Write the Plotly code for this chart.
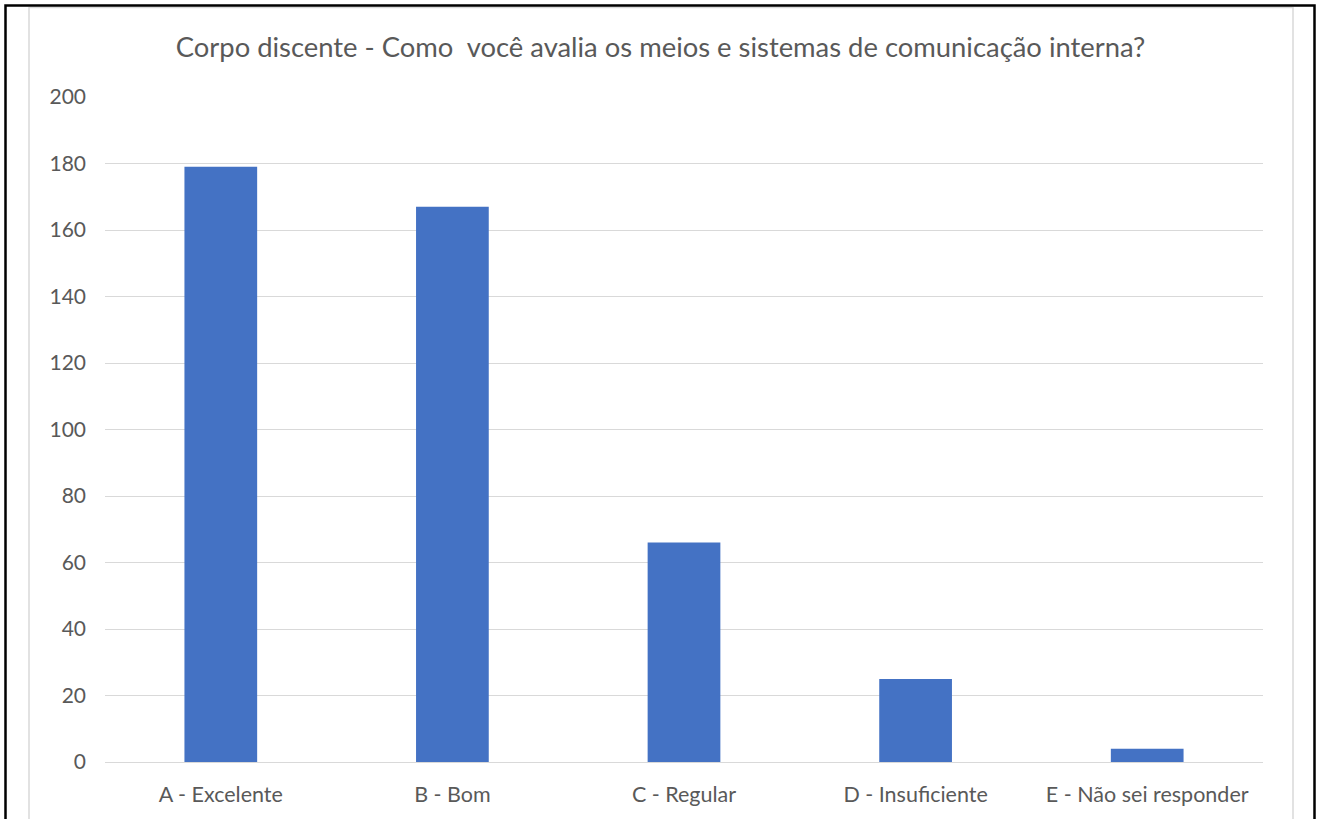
import plotly.graph_objects as go

categories = ["A - Excelente", "B - Bom", "C - Regular", "D - Insuficiente", "E - Não sei responder"]
values = [179, 167, 66, 25, 4]
title_text = "Corpo discente - Como  você avalia os meios e sistemas de comunicação interna?"

W, H = 1321, 819
L, R, T, B = 105, 58, 97, 57
pw, ph = W - L - R, H - T - B

def px(x):
    return (x - L) / pw

def py(y):
    return (H - B - y) / ph

fig = go.Figure(go.Bar(x=categories, y=values, marker=dict(color="#4472C4", line=dict(width=0))))

font_family = "Lato, 'Open Sans', sans-serif"
fig.update_layout(
    width=W, height=H,
    margin=dict(l=L, r=R, t=T, b=B, autoexpand=False),
    paper_bgcolor="white", plot_bgcolor="white",
    bargap=0.686,
    showlegend=False,
    title=dict(text=title_text, x=0.5, xanchor="center", y=1 - 47 / H, yanchor="middle",
               yref="container", font=dict(family=font_family, size=27.4, color="#595959")),
    font=dict(family=font_family, color="#595959"),
    xaxis=dict(showgrid=False, showline=False, ticks="", tickfont=dict(size=21.5, color="#595959"),
               ticklabelstandoff=17),
    yaxis=dict(range=[0, 200], dtick=20, showgrid=True, gridcolor="#d9d9d9", gridwidth=1.3,
               zeroline=True, zerolinecolor="#d9d9d9", zerolinewidth=1.3, showline=False,
               ticks="", tickfont=dict(size=21, color="#595959"), ticklabelstandoff=18),
    shapes=[
        dict(type="rect", xref="paper", yref="paper", x0=px(29), x1=px(1293), y0=py(840), y1=py(7.5),
             line=dict(color="#d9d9d9", width=1.5), fillcolor="rgba(0,0,0,0)", layer="below"),
        dict(type="rect", xref="paper", yref="paper", x0=px(5.5), x1=px(1314.5), y0=py(840), y1=py(5.5),
             line=dict(color="black", width=2.5), fillcolor="rgba(0,0,0,0)"),
    ],
)

fig.write_html("out.html", config={"displayModeBar": False},
               post_script="document.body.style.margin='0';document.body.style.overflow='hidden';")
